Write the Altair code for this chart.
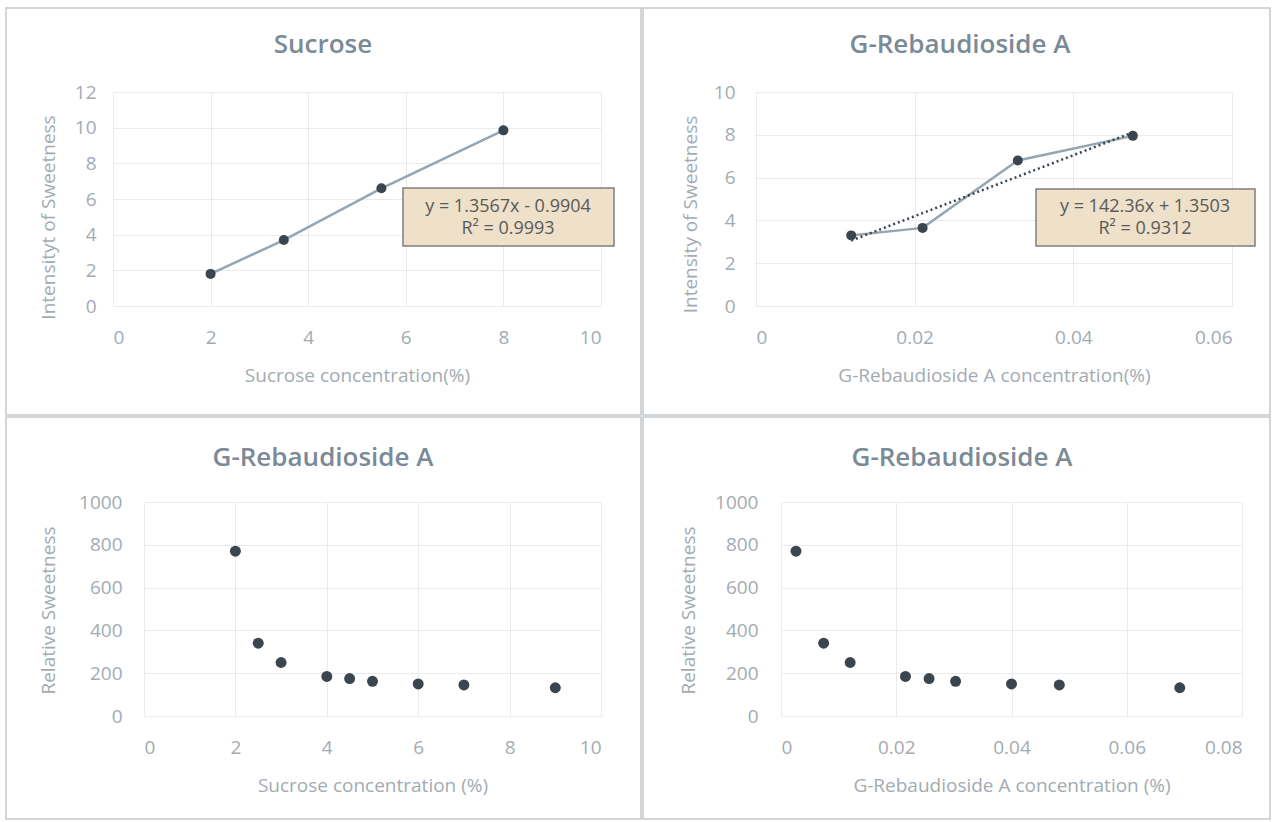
import altair as alt
import pandas as pd

# Intensity of sweetness against concentration (top row)
sucrose_conc = [2, 3.5, 5.5, 8]
sucrose_intensity = [1.8, 3.7, 6.6, 9.85]
reb_conc = [0.012, 0.021, 0.033, 0.0475]
reb_intensity = [3.3, 3.65, 6.8, 7.95]

# Relative sweetness of G-Rebaudioside A (bottom row)
rs_sucrose_conc = [2, 2.5, 3, 4, 4.5, 5, 6, 7, 9]
rs_reb_conc = [0.0026, 0.0074, 0.012, 0.0216, 0.0257, 0.0303, 0.04, 0.0483, 0.0692]
relative_sweetness = [770, 340, 250, 185, 175, 162, 150, 145, 132]

# Linear fits (slope, intercept, R²) shown on the top charts
sucrose_fit = (1.3567, -0.9904, 0.9993)
reb_fit = (142.36, 1.3503, 0.9312)

FONT = "Open Sans"
TITLE_COLOR = "#7b8a97"
TEXT_COLOR = "#a3abb2"
LINE_COLOR = "#95a5b2"
DOT_COLOR = "#3a4550"
FRAME_COLOR = "#c3c9cd"
GRID_COLOR = "#e9ebec"
BOX_FILL = "#eee0c9"
BOX_STROKE = "#7f7f7f"
EQ_COLOR = "#5a5a5a"

one_row = pd.DataFrame({"k": [0]})


def fit_lines(fit):
    slope, intercept, r2 = fit
    sign = "-" if intercept < 0 else "+"
    return f"y = {slope}x {sign} {abs(intercept)}", f"R² = {r2}"


def decorations(frame, title, title_xy):
    x1, x2, y1, y2 = frame
    border = alt.Chart(one_row).mark_rect(
        fillOpacity=0, stroke=FRAME_COLOR, strokeWidth=1.5
    ).encode(x=alt.value(x1), x2=alt.value(x2), y=alt.value(y1), y2=alt.value(y2))
    heading = alt.Chart(one_row).mark_text(
        text=title, font=FONT, fontSize=26, fontWeight=600, color=TITLE_COLOR,
        align="center", baseline="middle"
    ).encode(x=alt.value(title_xy[0]), y=alt.value(title_xy[1]))
    return [border, heading]


def equation_box(fit, box, center_x, line_ys):
    x1, x2, y1, y2 = box
    rect = alt.Chart(one_row).mark_rect(
        fill=BOX_FILL, stroke=BOX_STROKE, strokeWidth=1.5
    ).encode(x=alt.value(x1), x2=alt.value(x2), y=alt.value(y1), y2=alt.value(y2))
    layers = [rect]
    for line, ly in zip(fit_lines(fit), line_ys):
        layers.append(
            alt.Chart(one_row).mark_text(
                text=line, font=FONT, fontSize=18, color=EQ_COLOR,
                align="center", baseline="middle"
            ).encode(x=alt.value(center_x), y=alt.value(ly))
        )
    return layers


def x_enc(domain, values, title, rng=None):
    scale = alt.Scale(domain=domain, nice=False, zero=False)
    if rng is not None:
        scale = alt.Scale(domain=domain, nice=False, zero=False, range=rng)
    return alt.X(
        "x:Q",
        scale=scale,
        axis=alt.Axis(values=values, format="~r", title=title, labelPadding=22,
                      titleY=69, titleBaseline="middle"),
    )


def y_enc(domain, values, title, label_pad, title_x, title_y):
    return alt.Y(
        "y:Q",
        scale=alt.Scale(domain=domain, nice=False, zero=False),
        axis=alt.Axis(values=values, format="~r", title=title, labelPadding=label_pad,
                      titleX=title_x, titleY=title_y, titleAngle=-90,
                      titleAlign="center", titleBaseline="middle"),
    )


# --- Sucrose: intensity vs concentration ---
tl_df = pd.DataFrame({"x": sucrose_conc, "y": sucrose_intensity})
tl_x = x_enc([0, 10], [0, 2, 4, 6, 8, 10], "Sucrose concentration(%)")
tl_y = y_enc([0, 12], [0, 2, 4, 6, 8, 10, 12], "Intensityt of Sweetness", 17, -65, 125)
tl_base = alt.Chart(tl_df).encode(x=tl_x, y=tl_y)
tl = alt.layer(
    *decorations((-107, 528, -84, 323), "Sucrose", (210, -47)),
    tl_base.mark_line(color=LINE_COLOR, strokeWidth=2.5),
    tl_base.mark_point(filled=True, size=100, color=DOT_COLOR, opacity=1),
    *equation_box(sucrose_fit, (290, 501, 96, 154), 395, (115, 137)),
).properties(width=488, height=214)

# --- G-Rebaudioside A: intensity vs concentration ---
tr_df = pd.DataFrame({"x": reb_conc, "y": reb_intensity})
tr_x = x_enc([0, 0.06], [0, 0.02, 0.04, 0.06], "G-Rebaudioside A concentration(%)")
tr_y = y_enc([0, 10], [0, 2, 4, 6, 8, 10], "Intensity of Sweetness", 21, -66, 122)
tr_base = alt.Chart(tr_df).encode(x=tr_x, y=tr_y)
tr_trend = alt.Chart(tr_df).transform_calculate(
    trend=f"{reb_fit[0]} * datum.x + {reb_fit[1]}"
).mark_line(color=DOT_COLOR, strokeWidth=2.5, strokeDash=[2, 3]).encode(
    x=tr_x, y=alt.Y("trend:Q", scale=alt.Scale(domain=[0, 10], nice=False, zero=False))
)
tr = alt.layer(
    *decorations((-113, 514, -84, 323), "G-Rebaudioside A", (204, -47)),
    tr_base.mark_line(color=LINE_COLOR, strokeWidth=2.5),
    tr_trend,
    tr_base.mark_point(filled=True, size=100, color=DOT_COLOR, opacity=1),
    *equation_box(reb_fit, (280, 499, 97, 154), 389, (115, 137)),
).properties(width=476, height=214)

# The bottom panels share their column origin with the panel above, so their
# plot area is inset through the x range.

# --- Relative sweetness vs sucrose concentration ---
bl_df = pd.DataFrame({"x": rs_sucrose_conc, "y": relative_sweetness})
bl = alt.layer(
    *decorations((-107, 528, -85, 317), "G-Rebaudioside A", (210, -44)),
    alt.Chart(bl_df).mark_point(filled=True, size=120, color=DOT_COLOR, opacity=1).encode(
        x=x_enc([0, 10], [0, 2, 4, 6, 8, 10], "Sucrose concentration (%)", [31, 488]),
        y=y_enc([0, 1000], [0, 200, 400, 600, 800, 1000], "Relative Sweetness", -9, -65, 108),
    ),
).properties(width=488, height=214)

# --- Relative sweetness vs G-Rebaudioside A concentration ---
br_df = pd.DataFrame({"x": rs_reb_conc, "y": relative_sweetness})
br = alt.layer(
    *decorations((-113, 514, -85, 317), "G-Rebaudioside A", (206, -44)),
    alt.Chart(br_df).mark_point(filled=True, size=120, color=DOT_COLOR, opacity=1).encode(
        x=x_enc([0, 0.08], [0, 0.02, 0.04, 0.06, 0.08], "G-Rebaudioside A concentration (%)", [25, 486]),
        y=y_enc([0, 1000], [0, 200, 400, 600, 800, 1000], "Relative Sweetness", -2, -68, 108),
    ),
).properties(width=486, height=214)

chart = alt.concat(
    tl, tr, bl, br, columns=2, spacing=0
).properties(
    padding={"left": 5, "top": 7, "right": 0, "bottom": 0},
    background="white",
).configure_view(
    strokeWidth=0
).configure_axis(
    domain=False,
    ticks=False,
    grid=True,
    gridColor=GRID_COLOR,
    gridWidth=1,
    labelFont=FONT,
    labelFontSize=19,
    labelColor=TEXT_COLOR,
    titleFont=FONT,
    titleFontSize=19,
    titleFontWeight="normal",
    titleColor=TEXT_COLOR,
)

chart.save("out.html", embed_options={"renderer": "svg", "actions": False})
